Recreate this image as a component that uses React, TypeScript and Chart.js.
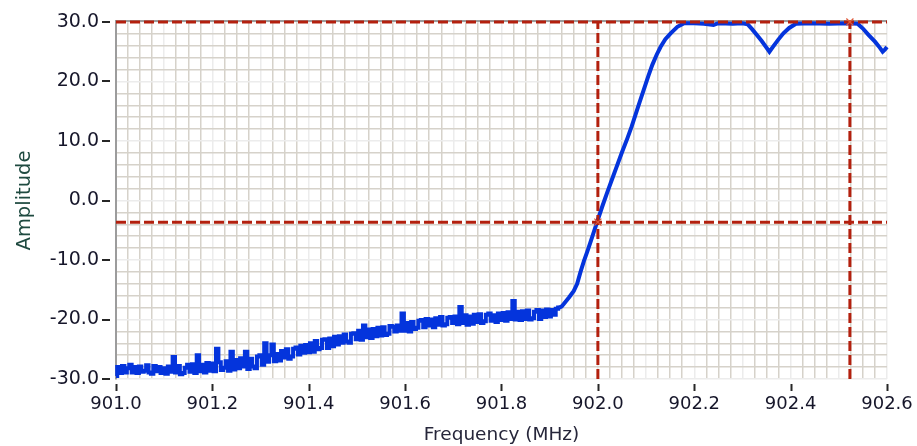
import React, { useEffect, useRef } from 'react';
import { Chart, registerables } from 'chart.js';

Chart.register(...registerables);

// ---- axis ranges / tick spacing ----
const X_MIN = 901.0;
const X_MAX = 902.6;
const Y_MIN = -30;
const Y_MAX = 30;
const X_GRID_STEP = 0.025;
const Y_GRID_STEP = 2;
const X_LABEL_STEP = 0.2;
const Y_LABEL_STEP = 10;

// ---- noisy stop-band part of the trace: sampled every 0.005 MHz from 901.000 ----
const noiseStartFreq = 901.0;
const noiseStepFreq = 0.005;
const noiseAmplitude = [
  -29.5, -28.0, -29.0, -27.8, -28.9, -28.2, -27.6, -28.9, -28.0, -29.0,
  -27.9, -28.8, -28.6, -27.7, -28.9, -29.1, -27.8, -28.7, -28.0, -29.0,
  -28.2, -29.1, -27.9, -28.8, -26.3, -28.9, -27.8, -29.2, -29.0, -28.1,
  -27.6, -28.8, -27.5, -29.0, -26.0, -28.7, -27.6, -28.9, -27.3, -28.6,
  -27.4, -28.7, -24.9, -27.2, -28.5, -28.1, -27.0, -28.6, -25.4, -28.4,
  -26.8, -28.2, -26.5, -27.9, -25.4, -28.3, -26.6, -27.9, -28.2, -26.2,
  -26.0, -27.6, -24.0, -27.1, -26.0, -24.2, -27.0, -25.8, -26.9, -25.3,
  -26.4, -25.0, -26.6, -26.2, -24.9, -24.7, -25.9, -24.4, -25.6, -24.3,
  -25.5, -24.0, -25.4, -23.6, -25.0, -24.8, -23.4, -23.3, -24.8, -23.2,
  -24.5, -22.9, -24.2, -22.8, -23.9, -22.5, -23.7, -23.9, -22.4, -22.3,
  -23.3, -21.9, -23.4, -21.0, -23.0, -21.7, -23.1, -21.6, -22.8, -21.4,
  -22.7, -21.3, -22.6, -22.4, -21.1, -21.2, -22.0, -21.0, -21.9, -19.0,
  -21.9, -20.6, -22.0, -20.4, -21.6, -21.4, -20.2, -20.1, -21.3, -19.9,
  -21.0, -20.0, -21.3, -19.8, -20.9, -19.6, -21.0, -20.8, -19.7, -19.6,
  -20.6, -19.5, -20.8, -17.9, -20.6, -19.3, -20.9, -19.5, -20.7, -19.2,
  -20.4, -19.1, -20.6, -20.3, -19.2, -19.0, -20.2, -19.3, -20.4, -19.0,
  -20.1, -18.9, -20.2, -18.8, -19.9, -16.9, -20.0, -18.7, -20.1, -18.6,
  -19.9, -18.5, -20.0, -19.8, -18.7, -18.4, -19.9, -18.5, -19.6, -18.3,
  -19.5, -18.4, -19.2, -18.2, -18.0,
];

// ---- rising edge and pass-band part of the trace ----
const edgeFreq = [
  901.92, 901.925, 901.93, 901.94, 901.95, 901.957, 901.964, 901.971, 901.978, 901.985,
  901.992, 902.0, 902.01, 902.02, 902.03, 902.04, 902.05, 902.061, 902.07, 902.078,
  902.087, 902.096, 902.105, 902.113, 902.122, 902.13, 902.14, 902.151, 902.165, 902.179,
  902.2, 902.22, 902.24, 902.25, 902.28, 902.3, 902.311, 902.32, 902.33, 902.34,
  902.348, 902.356, 902.364, 902.374, 902.385, 902.397, 902.411, 902.44, 902.48, 902.52,
  902.539, 902.55, 902.562, 902.575, 902.585, 902.591, 902.596, 902.6,
];
const edgeAmplitude = [
  -18.0, -17.8, -17.3, -16.3, -15.2, -14.0, -12.0, -10.2, -8.6, -6.9,
  -5.2, -3.2, -0.8, 1.5, 3.7, 5.9, 8.1, 10.4, 12.4, 14.4,
  16.6, 18.8, 21.0, 22.8, 24.5, 25.8, 27.1, 28.1, 29.2, 29.8,
  29.8, 29.7, 29.5, 29.8, 29.7, 29.8, 29.6, 28.8, 27.8, 26.8,
  25.9, 25.0, 25.9, 27.0, 28.1, 29.0, 29.7, 29.8, 29.7, 29.8,
  29.7, 28.9, 27.8, 26.7, 25.7, 25.0, 25.4, 25.8,
];

// ---- cursors (dashed red lines) ----
const cursorFreqs = [902.0, 902.523];
const cursorAmplitudes = [30.0, -3.64];

const FONT = 'DejaVu Sans';
const TICK_COLOR = '#16162a';
const TRACE_COLOR = '#0434dc';
const CURSOR_COLOR = '#b3200e';
const GRID_DARK = '#d6d2ca';
const GRID_LIGHT = '#ececec';

const isMajorX = (v: number) => Math.round(v * 1000) % Math.round(X_LABEL_STEP * 1000) === 0;
const isLightX = (v: number) => Math.round(v * 1000) % 100 === 0;
const isMajorY = (v: number) => Math.round(v) % Y_LABEL_STEP === 0;

// frame line above the plot + short tick marks detached from the axes
const framePlugin = {
  id: 'frame',
  beforeDatasetsDraw(chart: any) {
    const { ctx, chartArea, scales } = chart;
    ctx.save();
    ctx.strokeStyle = '#9c9c9c';
    ctx.lineWidth = 2;
    ctx.beginPath();
    ctx.moveTo(chartArea.left - 1, chartArea.top - 1);
    ctx.lineTo(chartArea.right, chartArea.top - 1);
    ctx.stroke();

    ctx.strokeStyle = '#262626';
    ctx.lineWidth = 2;
    scales.y.ticks.forEach((t: any) => {
      if (!isMajorY(t.value)) return;
      const y = Math.round(scales.y.getPixelForValue(t.value)) ;
      ctx.beginPath();
      ctx.moveTo(chartArea.left - 14, y);
      ctx.lineTo(chartArea.left - 6, y);
      ctx.stroke();
    });
    scales.x.ticks.forEach((t: any) => {
      if (!isMajorX(t.value)) return;
      const x = Math.round(scales.x.getPixelForValue(t.value)) + 0.5;
      ctx.beginPath();
      ctx.moveTo(x, chartArea.bottom + 5);
      ctx.lineTo(x, chartArea.bottom + 12);
      ctx.stroke();
    });
    ctx.restore();
  },
};

export default function App() {
  const canvasRef = useRef<HTMLCanvasElement | null>(null);

  useEffect(() => {
    if (!canvasRef.current) return;

    const noisePts = noiseAmplitude.map((a, i) => ({ x: noiseStartFreq + i * noiseStepFreq, y: a }));
    const edgePts = edgeFreq.map((f, i) => ({ x: f, y: edgeAmplitude[i] }));

    const cursorMarks = [
      { x: cursorFreqs[0], y: cursorAmplitudes[1] },
      { x: cursorFreqs[1], y: cursorAmplitudes[0] },
    ];

    const cursorDatasets: any[] = [
      {
        data: cursorMarks,
        showLine: false,
        pointStyle: 'crossRot',
        pointRadius: 5,
        pointBorderWidth: 1.2,
        pointBorderColor: '#e05a3a',
        clip: false,
      },
    ];
    cursorAmplitudes.forEach((a) => {
      cursorDatasets.push({
        data: [
          { x: X_MIN, y: a },
          { x: X_MAX, y: a },
        ],
        borderColor: CURSOR_COLOR,
        borderWidth: 3,
        borderDash: [10, 4],
        pointRadius: 0,
        clip: false,
      });
    });
    cursorFreqs.forEach((f) => {
      cursorDatasets.push({
        data: [
          { x: f, y: Y_MIN },
          { x: f, y: Y_MAX },
        ],
        borderColor: CURSOR_COLOR,
        borderWidth: 3,
        borderDash: [10, 4],
        pointRadius: 0,
        clip: false,
      });
    });

    const chart = new Chart(canvasRef.current, {
      type: 'line',
      data: {
        datasets: [
          ...cursorDatasets,
          {
            data: edgePts,
            borderColor: TRACE_COLOR,
            borderWidth: 4,
            pointRadius: 0,
            tension: 0,
            clip: 4,
          },
          {
            data: noisePts,
            borderColor: TRACE_COLOR,
            borderWidth: 4,
            pointRadius: 0,
            stepped: 'middle',
            clip: 4,
          },
        ],
      },
      options: {
        animation: false,
        responsive: true,
        maintainAspectRatio: false,
        devicePixelRatio: 1,
        layout: { padding: { top: 22, right: 30, left: 0, bottom: 0 } },
        plugins: { legend: { display: false }, tooltip: { enabled: false } },
        scales: {
          x: {
            type: 'linear',
            min: X_MIN,
            max: X_MAX,
            afterFit: (s: any) => {
              s.height = 67;
            },
            ticks: {
              stepSize: X_GRID_STEP,
              autoSkip: false,
              maxRotation: 0,
              minRotation: 0,
              padding: 2,
              color: TICK_COLOR,
              font: { family: FONT, size: 18 },
              callback: (v: any) => (isMajorX(Number(v)) ? Number(v).toFixed(1) : ''),
            },
            grid: {
              color: (c: any) => (c.tick && isLightX(c.tick.value) ? GRID_LIGHT : GRID_DARK),
              lineWidth: 1.5,
              drawTicks: true,
              tickLength: 13,
              tickColor: 'rgba(0,0,0,0)',
            },
            border: { display: false },
            title: {
              display: true,
              text: 'Frequency (MHz)',
              color: '#26263a',
              font: { family: FONT, size: 18.5 },
              padding: { top: 0, bottom: 0 },
            },
          },
          y: {
            type: 'linear',
            min: Y_MIN,
            max: Y_MAX,
            afterFit: (s: any) => {
              s.width = 116;
            },
            ticks: {
              stepSize: Y_GRID_STEP,
              autoSkip: false,
              padding: 3,
              color: TICK_COLOR,
              font: { family: FONT, size: 19 },
              callback: (v: any) => (isMajorY(Number(v)) ? Number(v).toFixed(1) : ''),
            },
            grid: {
              color: (c: any) => (c.tick && isMajorY(c.tick.value) ? GRID_LIGHT : GRID_DARK),
              lineWidth: 1.5,
              drawTicks: true,
              tickLength: 14,
              tickColor: 'rgba(0,0,0,0)',
            },
            border: { display: true, color: '#9c9c9c', width: 2 },
            title: {
              display: true,
              text: 'Amplitude',
              color: '#1f4a40',
              font: { family: FONT, size: 19.5 },
              padding: { top: 13, bottom: 0 },
            },
          },
        },
      },
      plugins: [framePlugin],
    });

    return () => chart.destroy();
  }, []);

  return (
    <div style={{ position: 'fixed', left: 0, top: 0, width: 917, height: 446, background: '#ffffff' }}>
      <canvas ref={canvasRef} />
    </div>
  );
}
